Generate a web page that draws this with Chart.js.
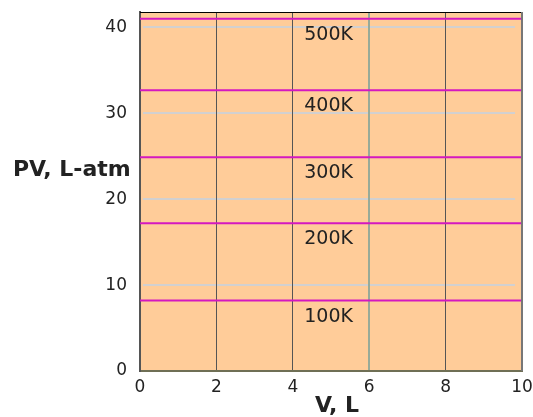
<!DOCTYPE html>
<html>
<head>
<meta charset="utf-8">
<script src="https://cdn.jsdelivr.net/npm/chart.js@4/dist/chart.umd.min.js"></script>
<style>
  html, body { margin: 0; padding: 0; background: #fff; }
  #wrap { width: 533px; height: 417px; }
</style>
</head>
<body>
<div id="wrap"><canvas id="chart" width="533" height="417"></canvas></div>
<script>
// isotherms PV = nRT
const temps = ["100K", "200K", "300K", "400K", "500K"];
const pvValues = [8.2, 17.2, 24.9, 32.7, 41.0];
const volumeRange = [0, 10];
const xTicks = [0, 2, 4, 6, 8, 10];
const yTicks = [0, 10, 20, 30, 40];

const FONT = "'DejaVu Sans', Verdana, sans-serif";

const datasets = pvValues.map((pv, i) => ({
  label: temps[i],
  data: volumeRange.map((v) => ({ x: v, y: pv })),
  borderColor: "#d418c0",
  borderWidth: 2,
  pointRadius: 0,
  showLine: true,
}));

const decor = {
  id: "decor",
  beforeDraw(chart) {
    const { ctx, chartArea: a, scales } = chart;
    ctx.save();
    ctx.fillStyle = "#ffcc99";
    ctx.fillRect(a.left, a.top, a.right - a.left, a.bottom - a.top);
    // light horizontal grid, slightly inset like the original
    ctx.strokeStyle = "#d2d0d0";
    ctx.lineWidth = 2;
    yTicks.slice(1).forEach((v) => {
      const y = Math.round(scales.y.getPixelForValue(v));
      ctx.beginPath();
      ctx.moveTo(a.left + 3, y);
      ctx.lineTo(a.right - 7, y);
      ctx.stroke();
    });
    ctx.restore();
  },
  afterDraw(chart) {
    const { ctx, chartArea: a, scales } = chart;
    ctx.save();
    // frame: top black, right grey
    ctx.lineWidth = 1;
    ctx.strokeStyle = "#000";
    ctx.beginPath();
    ctx.moveTo(a.left, a.top + 0.5);
    ctx.lineTo(a.right, a.top + 0.5);
    ctx.stroke();
    ctx.strokeStyle = "#777";
    ctx.lineWidth = 2;
    ctx.beginPath();
    ctx.moveTo(a.right, a.top);
    ctx.lineTo(a.right, a.bottom);
    ctx.stroke();

    // temperature labels under each line
    ctx.fillStyle = "#222";
    ctx.font = "19px " + FONT;
    ctx.textBaseline = "alphabetic";
    ctx.textAlign = "left";
    pvValues.forEach((pv, i) => {
      const x = scales.x.getPixelForValue(4.3);
      const y = scales.y.getPixelForValue(pv) + 21;
      ctx.fillText(temps[i], x, y);
    });

    // axis titles
    ctx.font = "bold 22px " + FONT;
    ctx.textAlign = "left";
    ctx.fillText("PV, L-atm", 13, 176);
    ctx.textAlign = "center";
    ctx.fillText("V, L", 337, 412);
    ctx.restore();
  },
};

new Chart(document.getElementById("chart"), {
  type: "scatter",
  data: { datasets },
  options: {
    responsive: false,
    animation: false,
    layout: { padding: { left: 0, right: 11, top: 12, bottom: 0 } },
    plugins: { legend: { display: false }, tooltip: { enabled: false } },
    scales: {
      x: {
        type: "linear",
        min: 0,
        max: 10,
        afterBuildTicks: (s) => { s.ticks = xTicks.map((v) => ({ value: v })); },
        afterFit: (s) => { s.height = 46; s.paddingLeft = 0; s.paddingRight = 0; },
        ticks: { color: "#222", font: { family: FONT, size: 17 }, padding: 6, maxRotation: 0 },
        grid: {
          drawTicks: false,
          color: (c) => (c.tick && c.tick.value === 6 ? "#98aa98" : "#555"),
          lineWidth: (c) => (c.tick && c.tick.value === 6 ? 2 : 1),
        },
        border: { color: "#6f6f55", width: 2 },
      },
      y: {
        type: "linear",
        min: 0,
        max: 41.8,
        afterBuildTicks: (s) => { s.ticks = yTicks.map((v) => ({ value: v })); },
        afterFit: (s) => { s.width = 140; s.paddingTop = 0; s.paddingBottom = 0; },
        ticks: { color: "#222", font: { family: FONT, size: 17 }, padding: 13 },
        grid: { display: false, drawTicks: false },
        border: { color: "#555", width: 2 },
      },
    },
  },
  plugins: [decor],
});
</script>
</body>
</html>
